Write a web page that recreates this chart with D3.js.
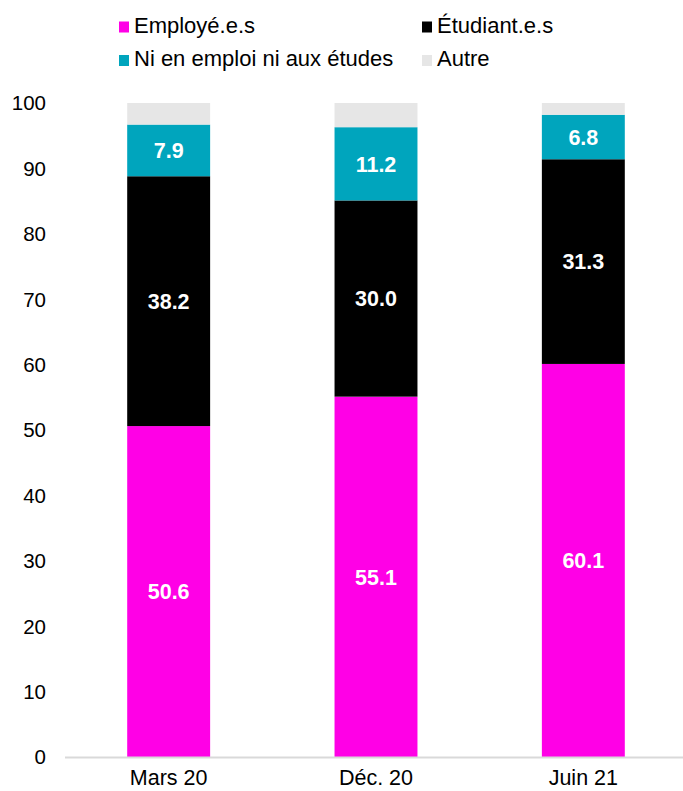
<!DOCTYPE html>
<html><head><meta charset="utf-8">
<script src="https://cdn.jsdelivr.net/npm/d3@7"></script>
<style>body{margin:0;background:#fff}svg{display:block;font-family:"Liberation Sans",Arial,Helvetica,sans-serif}</style>
</head><body><svg id="c" width="683" height="791"></svg>
<script>
const categories = ["Mars 20", "Déc. 20", "Juin 21"];
const seriesNames = ["Employé.e.s", "Étudiant.e.s", "Ni en emploi ni aux études", "Autre"];
const employes = [50.6, 55.1, 60.1];
const etudiants = [38.2, 30.0, 31.3];
const niEmploi = [7.9, 11.2, 6.8];
const autre = [3.3, 3.7, 1.8];
const yTicks = [0,10,20,30,40,50,60,70,80,90,100];
const colors = ["#ff00e6", "#000000", "#00a5bd", "#e6e6e6"];

const svg = d3.select("#c");
const x = d3.scaleBand().domain(categories).range([65, 687]).paddingInner(0.6).paddingOuter(0.3);
const y = d3.scaleLinear().domain([0, 100]).range([757, 103]);

const rows = categories.map((c, i) => ({cat: c, s0: employes[i], s1: etudiants[i], s2: niEmploi[i], s3: autre[i]}));
const stack = d3.stack().keys(["s0","s1","s2","s3"]);
const layers = stack(rows);

// y tick labels
svg.append("g").selectAll("text").data(yTicks).join("text")
  .attr("x", 46).attr("y", d => y(d)).attr("dy", "0.36em")
  .attr("text-anchor", "end").attr("font-size", 20.5).attr("fill", "#000")
  .text(d => d);

layers.forEach((layer, li) => {
  const g = svg.append("g");
  g.selectAll("rect").data(layer).join("rect")
    .attr("x", d => x(d.data.cat)).attr("width", x.bandwidth())
    .attr("y", d => y(d[1])).attr("height", d => y(d[0]) - y(d[1]))
    .attr("fill", colors[li]);
  if (li < 3) {
    g.selectAll("text").data(layer).join("text")
      .attr("x", d => x(d.data.cat) + x.bandwidth()/2)
      .attr("y", d => (y(d[0]) + y(d[1]))/2).attr("dy", "0.36em")
      .attr("text-anchor", "middle").attr("font-size", 21.5).attr("font-weight", "bold")
      .attr("fill", "#fff")
      .text(d => (d[1]-d[0]).toFixed(1));
  }
});

// baseline
svg.append("line").attr("x1", 65).attr("x2", 683).attr("y1", 757.5).attr("y2", 757.5)
  .attr("stroke", "#d9d9d9").attr("stroke-width", 2);

// x labels
svg.append("g").selectAll("text").data(categories).join("text")
  .attr("x", d => x(d) + x.bandwidth()/2).attr("y", 785)
  .attr("text-anchor", "middle").attr("font-size", 21.5).attr("fill", "#000")
  .text(d => d);

// legend
const legPos = [[119, 32.5], [422, 32.5], [119, 66], [422, 66]];
const lg = svg.append("g").selectAll("g").data(seriesNames).join("g")
  .attr("transform", (d, i) => `translate(${legPos[i][0]},${legPos[i][1]})`);
lg.append("rect").attr("x", 0).attr("y", -11).attr("width", 10).attr("height", 11)
  .attr("fill", (d, i) => colors[i]);
lg.append("text").attr("x", 15).attr("y", 0)
  .attr("font-size", 22).attr("fill", "#000").text(d => d);
</script></body></html>
